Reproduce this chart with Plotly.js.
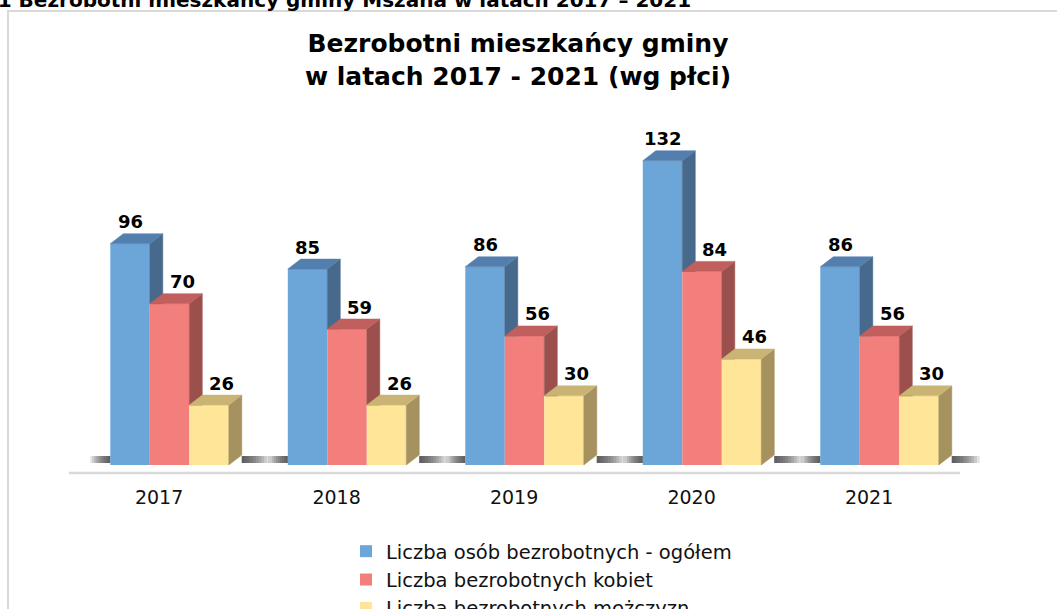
<!DOCTYPE html>
<html>
<head>
<meta charset="utf-8">
<script src="https://cdn.plot.ly/plotly-3.0.1.min.js"></script>
<style>
  html, body { margin: 0; padding: 0; background: #ffffff; }
  #chart { width: 1057px; height: 609px; }
</style>
</head>
<body>
<div id="chart"></div>
<script>
// ---------- data ----------
const years = ['2017', '2018', '2019', '2020', '2021'];
const ogolem = [96, 85, 86, 132, 86];
const kobiety = [70, 59, 56, 84, 56];
const mezczyzni = [26, 26, 30, 46, 30];
const seriesNames = [
  'Liczba osób bezrobotnych - ogółem',
  'Liczba bezrobotnych kobiet',
  'Liczba bezrobotnych mężczyzn'
];
const chartTitle = 'Bezrobotni mieszkańcy gminy<br>w latach 2017 - 2021 (wg płci)';
const captionText = 'Wykres 1 Bezrobotni mieszkańcy gminy Mszana w latach 2017 – 2021';

// ---------- styles / geometry ----------
const series = [ogolem, kobiety, mezczyzni];
const frontColors = ['#6CA6D9', '#F37F7D', '#FFE597'];
const sideColors  = ['#46698C', '#9B504E', '#A6925F'];
const topColors   = ['#527FAD', '#C05F5D', '#C9B474'];
const labelShift  = [0, 12.5, 12.5];

const FONT = 'DejaVu Sans';
const PL = 60, PR = 980, PT = 130, PB = 480;   // plot area in px
const PXU = 177.5;                              // px per category
const XMIN = -0.558;
const XMAX = XMIN + (PR - PL) / PXU;
const YPX = 2.305;                              // px per value unit
const BASE_PX = 465;
const YMIN = -(PB - BASE_PX) / YPX;
const YMAX = YMIN + (PB - PT) / YPX;
const W = 39.5 / PXU;
const DX = 13 / PXU;
const DY = 10 / YPX;
const X0 = 10.5 / PXU;

const xd = px => XMIN + (px - PL) / PXU;
const yd = py => YMIN + (PB - py) / YPX;
const xp = px => (px - PL) / (PR - PL);
const yp = py => (PB - py) / (PB - PT);

const idx = years.map((_, i) => i);
const centerOf = (s, i) => i + X0 + (s - 1) * W;

const traces = [];
// front faces (bars)
series.forEach((vals, s) => {
  traces.push({
    type: 'bar',
    name: seriesNames[s],
    legendgroup: 'g' + s,
    x: idx.map(i => centerOf(s, i)),
    y: vals,
    width: W,
    marker: { color: frontColors[s], line: { width: 0 } },
    hoverinfo: 'skip'
  });
});

// side and top faces (3D effect), computed from the data
series.forEach((vals, s) => {
  const sx = [], sy = [], tx = [], ty = [];
  idx.forEach(i => {
    const v = vals[i];
    const c = centerOf(s, i);
    const xl = c - W / 2, xr = c + W / 2;
    if (s < series.length - 1) {
      const cb = series[s + 1][i];
      sx.push(xr, xr + DX, xr + DX, xr, xr, null);
      sy.push(cb, cb, v + DY, v, cb, null);
    } else {
      sx.push(xr, xr + DX, xr + DX, xr, xr, null);
      sy.push(0, DY, v + DY, v, 0, null);
    }
    tx.push(xl, xl + DX, xr + DX, xr, xl, null);
    ty.push(v, v + DY, v + DY, v, v, null);
  });
  traces.push({
    type: 'scatter', mode: 'lines', x: sx, y: sy, fill: 'toself',
    fillcolor: sideColors[s], line: { color: sideColors[s], width: 0.5 },
    showlegend: false, hoverinfo: 'skip'
  });
  traces.push({
    type: 'scatter', mode: 'lines', x: tx, y: ty, fill: 'toself',
    fillcolor: topColors[s], line: { color: topColors[s], width: 0.5 },
    showlegend: false, hoverinfo: 'skip'
  });
});

// value labels
const annotations = [];
series.forEach((vals, s) => {
  idx.forEach(i => {
    annotations.push({
      x: centerOf(s, i), y: vals[i] + DY, xref: 'x', yref: 'y',
      text: String(vals[i]), showarrow: false,
      xanchor: 'center', yanchor: 'middle',
      xshift: labelShift[s], yshift: 12,
      font: { family: FONT, size: 18, weight: 'bold', color: '#000000' }
    });
  });
});
// clipped caption at the very top
annotations.push({
  xref: 'paper', yref: 'paper', x: xp(693), y: yp(0),
  xanchor: 'right', yanchor: 'middle', showarrow: false,
  text: captionText,
  font: { family: FONT, size: 20, weight: 'bold', color: '#000000' }
});

// shapes: frame, floor line, floor shadows
const shapes = [];
shapes.push({
  type: 'rect', xref: 'paper', yref: 'paper', layer: 'below',
  x0: xp(8), x1: xp(1075), y0: yp(625), y1: yp(11),
  line: { color: '#D9D9D9', width: 2 }, fillcolor: 'rgba(0,0,0,0)'
});
shapes.push({
  type: 'line', xref: 'paper', yref: 'paper', layer: 'below',
  x0: xp(69), x1: xp(960), y0: yp(473), y1: yp(473),
  line: { color: '#D9D9D9', width: 2.5 }
});
// soft floor shadows: overlapping translucent strips give a smooth fade
const NS = 10, SW = 2 / PXU;
idx.forEach(i => {
  const left = centerOf(0, i) - W / 2;
  const right = centerOf(2, i) + W / 2 + DX;
  for (let k = 0; k < NS; k++) {
    const fill = 'rgba(45,45,45,0.13)';
    shapes.push({
      type: 'rect', xref: 'x', yref: 'y', layer: 'below',
      x0: left - (k + 1) * SW, x1: left,
      y0: yd(463), y1: yd(456),
      line: { width: 0 }, fillcolor: fill
    });
    shapes.push({
      type: 'rect', xref: 'x', yref: 'y', layer: 'below',
      x0: right, x1: right + (k + 1) * SW * 1.4,
      y0: yd(463), y1: yd(456),
      line: { width: 0 }, fillcolor: fill
    });
  }
});

const layout = {
  width: 1057, height: 609,
  paper_bgcolor: '#ffffff', plot_bgcolor: 'rgba(0,0,0,0)',
  margin: { l: PL, r: 1057 - PR, t: PT, b: 609 - PB, pad: 0, autoexpand: false },
  barmode: 'overlay',
  showlegend: true,
  title: {
    text: chartTitle,
    x: 518 / 1057, xanchor: 'center',
    y: 1 - 52 / 609, yanchor: 'top',
    font: { family: FONT, size: 25, weight: 'bold', color: '#000000' }
  },
  xaxis: {
    range: [XMIN, XMAX], tickmode: 'array', tickvals: idx, ticktext: years,
    showgrid: false, zeroline: false, showline: false, ticks: '',
    ticklabelstandoff: 4,
    tickfont: { family: FONT, size: 19, color: '#111111' },
    automargin: false, fixedrange: true
  },
  yaxis: {
    range: [YMIN, YMAX], visible: false, showgrid: false, zeroline: false,
    automargin: false, fixedrange: true
  },
  legend: {
    orientation: 'v', x: xp(346), y: yp(532), xanchor: 'left', yanchor: 'top',
    font: { family: FONT, size: 19.5, color: '#111111' },
    bgcolor: 'rgba(0,0,0,0)', tracegroupgap: 11, traceorder: 'normal',
    itemclick: false, itemdoubleclick: false
  },
  annotations: annotations,
  shapes: shapes
};

Plotly.newPlot('chart', traces, layout, { displayModeBar: false, staticPlot: true });
</script>
</body>
</html>
